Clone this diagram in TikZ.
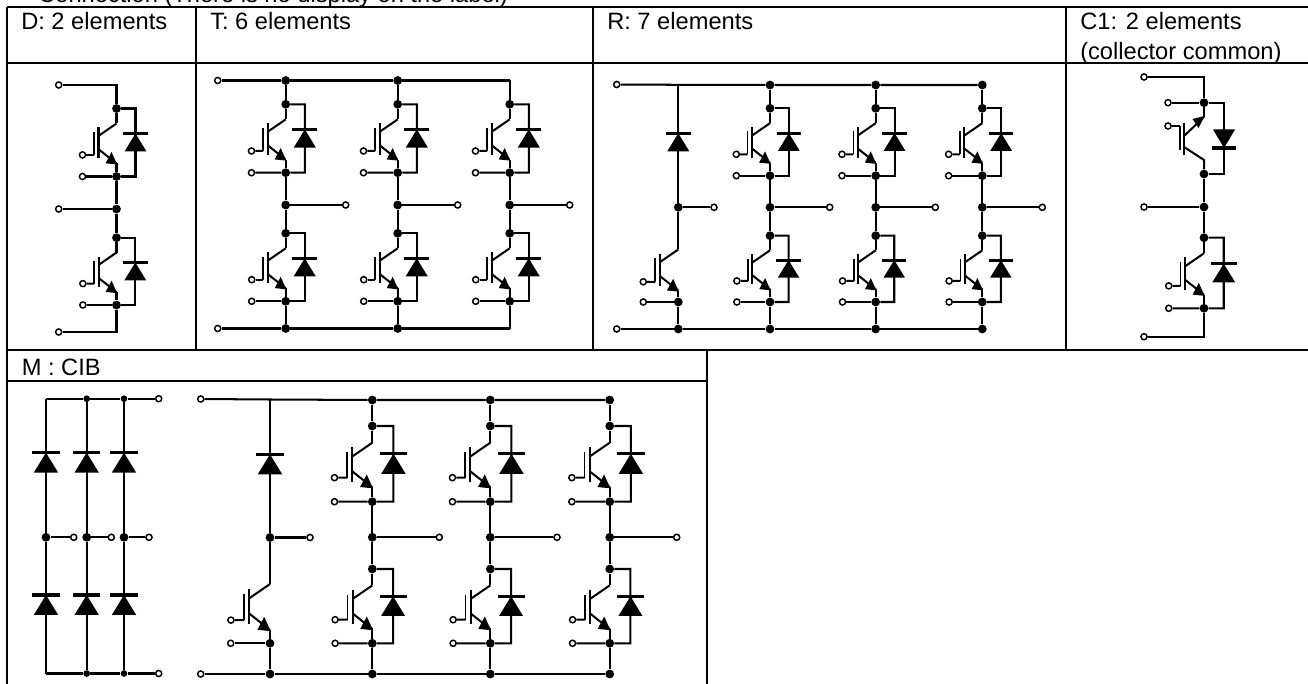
\documentclass[tikz,border=0pt]{standalone}
\usepackage{fontspec}
\setmainfont{Liberation Sans}
\tikzset{
  wire/.style={line width=1.52pt,line join=miter},
  rule/.style={line width=1.52pt},
  igbtbar/.style={line width=1.52pt},
  gatebar/.style={line width=1.15pt},
  diodebar/.style={line width=2.3pt},
  terminal/.style={circle,draw,fill=white,line width=1.1pt,inner sep=0pt,minimum size=4.6pt},
  jdot/.style={circle,fill=black,inner sep=0pt,minimum size=6.6pt},
  sdot/.style={circle,fill=black,inner sep=0pt,minimum size=5pt},
  label/.style={anchor=base west,inner sep=0pt,font=\fontsize{17.75pt}{22.4pt}\selectfont}
}
\newcommand\termnode[3]{\node[terminal] (#1) at (#2,#3) {};}
\newcommand\jnode[3]{\node[jdot] (#1) at (#2,#3) {};}
\newcommand\snode[3]{\node[sdot] (#1) at (#2,#3) {};}
\newcommand\diodeshape[3]{%
  \begin{scope}[shift={(#1,#2)},scale=#3]
    \fill (0,0) -- (-11,18) -- (11,18) -- cycle;
    \draw[diodebar] (-12.4,0) -- (12.4,0);
  \end{scope}}
\newcommand\igbtcore[4]{%
  \begin{scope}[shift={(#2,#3)},scale=#4]
    \coordinate (#1-ct) at (0,15);
    \coordinate (#1-e) at (0,55);
    \node[terminal] (#1-g) at (-34,46.4) {};
    \draw[wire] (#1-ct) -- (-18,27.4);
    \draw[wire] (-18,40.7) -- (#1-e);
    \fill (0.6,56) -- (-11,54.8) -- (-5,43.5) -- cycle;
    \draw[igbtbar] (-18,19) -- (-18,50);
    \draw[gatebar] (-22.5,23.4) -- (-22.5,46.4);
    \draw[wire] (#1-g) -- (-22.5,46.4);
  \end{scope}}
% name, x, y of upper dot, y of lower dot
\newcommand\igbtcell[4]{%
  \pgfmathsetmacro\cellscale{(#4-#3)/68}%
  \igbtcore{#1}{#2}{#3}{\cellscale}%
  \begin{scope}[shift={(#2,#3)},scale=\cellscale]
    \node[jdot] (#1-t) at (0,0) {};
    \node[jdot] (#1-b) at (0,68) {};
    \node[terminal] (#1-a) at (-34,68) {};
    \coordinate (#1-d1) at (19,0);
    \coordinate (#1-d2) at (19,68);
    \draw[wire] (#1-t) -- (#1-ct);
    \draw[wire] (#1-e) -- (#1-b);
    \draw[wire] (#1-a) -- (#1-b);
    \draw[wire] (#1-t) -- (#1-d1) -- (#1-d2) -- (#1-b);
    \diodeshape{19}{25}{1}
  \end{scope}}
\begin{document}
\begin{tikzpicture}[x=0.75pt,y=-0.75pt]
\useasboundingbox (0,0) rectangle (1308,684);
% table rules
\coordinate (gTL) at (7,7);
\coordinate (gTR) at (1308,7);
\coordinate (gHL) at (7,63.3);
\coordinate (gHR) at (1308,63.3);
\coordinate (gML) at (7,350);
\coordinate (gMR) at (1308,350);
\coordinate (gBL) at (7,684);
\coordinate (gNL) at (7,381);
\coordinate (gNR) at (706.7,381);
\coordinate (gOT) at (706.7,350);
\coordinate (gOB) at (706.7,684);
\draw[rule] (gTL) -- (gTR);
\draw[rule] (gHL) -- (gHR);
\draw[rule] (gML) -- (gMR);
\draw[rule] (gNL) -- (gNR);
\draw[rule] (gTL) -- (gBL);
\draw[rule] (gOT) -- (gOB);
\foreach \cx/\cn in {196/a,592.7/b,1066/c}{
  \coordinate (v\cn1) at (\cx,7);
  \coordinate (v\cn2) at (\cx,350);
  \draw[rule] (v\cn1) -- (v\cn2);
}
% texts
\node[label] (title) at (38,3) {Connection (There is no display on the label)};
\node[label] (hD) at (21,30) {D: 2 elements};
\node[label] (hT) at (210,30) {T: 6 elements};
\node[label] (hR) at (607,30) {R: 7 elements};
\node[label,align=left,anchor=north west] (hC) at (1080,12.5) {C1: 2 elements\\[0pt](collector common)};
\node[label] (hM) at (21.5,375) {M\ :\ CIB};

% ---------- D
\termnode{Dt}{58.7}{85}
\coordinate (Dc) at (116.5,85);
\igbtcell{D1}{116.5}{108.5}{176.5}
\jnode{Dm}{116.5}{209}
\termnode{Dmt}{58.7}{209}
\igbtcell{D2}{116.5}{237.7}{305}
\termnode{Db}{58.7}{332}
\coordinate (Dd) at (116.5,332);
\draw[wire] (Dt) -- (Dc) -- (D1-t);
\draw[wire] (D1-b) -- (Dm) -- (D2-t);
\draw[wire] (Dmt) -- (Dm);
\draw[wire] (D2-b) -- (Dd) -- (Db);

% ---------- T
\termnode{Tt}{217.7}{80.5}
\termnode{Tb}{217.7}{328.5}
\jnode{Tr1}{285.7}{80.5}
\jnode{Tr2}{397.7}{80.5}
\coordinate (Tr3) at (509.7,80.5);
\jnode{Ts1}{285.7}{328.5}
\jnode{Ts2}{397.7}{328.5}
\coordinate (Ts3) at (509.7,328.5);
\draw[wire] (Tt) -- (Tr1) -- (Tr2) -- (Tr3);
\draw[wire] (Tb) -- (Ts1) -- (Ts2) -- (Ts3);
\foreach \i/\X in {1/285.7,2/397.7,3/509.7}{
  \igbtcell{Tu\i}{\X}{104.3}{172.7}
  \igbtcell{Tl\i}{\X}{233.3}{301.3}
  \jnode{Tm\i}{\X}{205}
  \pgfmathsetmacro\tx{\X+60}
  \termnode{To\i}{\tx}{205}
  \draw[wire] (Tr\i) -- (Tu\i-t);
  \draw[wire] (Tu\i-b) -- (Tm\i) -- (Tl\i-t);
  \draw[wire] (Tl\i-b) -- (Ts\i);
  \draw[wire] (Tm\i) -- (To\i);
}

% ---------- R
\termnode{Rt}{616.7}{84.5}
\termnode{Rb}{616.7}{329}
\coordinate (Rr0) at (678.3,84.8);
\jnode{Rs0}{678.3}{329}
\jnode{Rr1}{770}{85}
\jnode{Rr2}{875.7}{85}
\jnode{Rr3}{982.3}{85}
\jnode{Rs1}{770}{329}
\jnode{Rs2}{875.7}{329}
\jnode{Rs3}{982.3}{329}
\draw[wire] (Rt) -- (Rr0) -- (Rr1) -- (Rr2) -- (Rr3);
\draw[wire] (Rb) -- (Rs0) -- (Rs1) -- (Rs2) -- (Rs3);
\jnode{Rm0}{678.3}{207.3}
\termnode{Ro0}{714}{207.3}
\draw[wire] (Rr0) -- (Rm0);
\draw[wire] (Rm0) -- (Ro0);
\diodeshape{678.3}{133.3}{1}
\igbtcore{Rq}{678.3}{234}{1.03}
\jnode{Rqb}{678.3}{302}
\termnode{Rqa}{643.3}{302}
\draw[wire] (Rm0) -- (Rq-ct);
\draw[wire] (Rq-e) -- (Rqb);
\draw[wire] (Rqb) -- (Rs0);
\draw[wire] (Rqa) -- (Rqb);
\foreach \i/\X/\O in {1/770/829.7,2/875.7/935.3,3/982.3/1042.3}{
  \igbtcell{Ru\i}{\X}{108.3}{175.7}
  \igbtcell{Rl\i}{\X}{235.7}{302}
  \jnode{Rm\i}{\X}{207.3}
  \termnode{Ro\i}{\O}{207.3}
  \draw[wire] (Rr\i) -- (Ru\i-t);
  \draw[wire] (Ru\i-b) -- (Rm\i) -- (Rl\i-t);
  \draw[wire] (Rl\i-b) -- (Rs\i);
  \draw[wire] (Rm\i) -- (Ro\i);
}

% ---------- C1
\termnode{Ct}{1144}{77}
\coordinate (Cc) at (1204,77);
\jnode{Cd1}{1204}{102.7}
\termnode{Ca1}{1168}{102.7}
\coordinate (Cq1) at (1204,117);
\coordinate (Cq2) at (1204,160);
\jnode{Cd2}{1204}{174}
\termnode{Cg1}{1168}{126}
\coordinate (Cb1) at (1224,102.7);
\coordinate (Cb2) at (1224,174);
\draw[wire] (Ct) -- (Cc) -- (Cd1) -- (Cq1);
\draw[wire] (Ca1) -- (Cd1);
\draw[wire] (Cd1) -- (Cb1) -- (Cb2) -- (Cd2);
\draw[wire] (Cq1) -- (1184,136);
\draw[wire] (1184,147) -- (Cq2) -- (Cd2);
\fill (1204.5,116) -- (1192.5,119) -- (1198.5,128) -- cycle;
\draw[igbtbar] (1184,123) -- (1184,155);
\draw[gatebar] (1180,126) -- (1180,150);
\draw[wire] (Cg1) -- (1180,126);
\fill (1224,148) -- (1213,129.5) -- (1235,129.5) -- cycle;
\draw[diodebar] (1211.6,148) -- (1236.4,148);
\jnode{Cm}{1204}{207}
\termnode{Cmt}{1144}{207}
\igbtcell{C2}{1204}{237.7}{308.3}
\termnode{Cb}{1144}{336.7}
\coordinate (Cd) at (1204,336.7);
\draw[wire] (Cd2) -- (Cm) -- (C2-t);
\draw[wire] (Cmt) -- (Cm);
\draw[wire] (C2-b) -- (Cd) -- (Cb);

% ---------- M, bridge
\coordinate (Mr1) at (46,398.7);
\snode{Mr2}{86.7}{398.7}
\snode{Mr3}{124}{398.7}
\termnode{Mrt}{158.7}{398.7}
\coordinate (Ms1) at (46,673.5);
\snode{Ms2}{86.7}{673.5}
\snode{Ms3}{124}{673.5}
\termnode{Mst}{158.7}{673.5}
\draw[wire] (Mr1) -- (Mr2) -- (Mr3) -- (Mrt);
\draw[wire] (Ms1) -- (Ms2) -- (Ms3) -- (Mst);
\foreach \i/\X/\O in {1/46/73.7,2/86.7/111.3,3/124/149}{
  \jnode{Mm\i}{\X}{537.3}
  \termnode{Mo\i}{\O}{537.3}
  \draw[wire] (Mr\i) -- (Mm\i) -- (Ms\i);
  \draw[wire] (Mm\i) -- (Mo\i);
  \diodeshape{\X}{452.7}{1.11}
  \diodeshape{\X}{595}{1.11}
}

% ---------- M, inverter
\termnode{Nt}{200.7}{399}
\termnode{Nb}{200.7}{674}
\coordinate (Nr0) at (270,399.5);
\jnode{Ns0}{270}{674}
\jnode{Nr1}{372.3}{400}
\jnode{Nr2}{490.3}{400}
\jnode{Nr3}{609.7}{400}
\jnode{Ns1}{372.3}{674}
\jnode{Ns2}{490.3}{674}
\jnode{Ns3}{609.7}{674}
\draw[wire] (Nt) -- (Nr0) -- (Nr1) -- (Nr2) -- (Nr3);
\draw[wire] (Nb) -- (Ns0) -- (Ns1) -- (Ns2) -- (Ns3);
\jnode{Nm0}{270}{537.5}
\termnode{No0}{310}{537.5}
\draw[wire] (Nr0) -- (Nm0);
\draw[wire] (Nm0) -- (No0);
\diodeshape{270}{454.3}{1.11}
\igbtcore{Nq}{270}{566.75}{1.15}
\jnode{Nqb}{270}{643.3}
\termnode{Nqa}{230.7}{643.3}
\draw[wire] (Nm0) -- (Nq-ct);
\draw[wire] (Nq-e) -- (Nqb);
\draw[wire] (Nqb) -- (Ns0);
\draw[wire] (Nqa) -- (Nqb);
\foreach \i/\X/\O in {1/372.3/439.3,2/490.3/557,3/609.7/676.7}{
  \igbtcell{Nu\i}{\X}{426}{501.7}
  \igbtcell{Nl\i}{\X}{569}{643.3}
  \jnode{Nm\i}{\X}{537.3}
  \termnode{No\i}{\O}{537.3}
  \draw[wire] (Nr\i) -- (Nu\i-t);
  \draw[wire] (Nu\i-b) -- (Nm\i) -- (Nl\i-t);
  \draw[wire] (Nl\i-b) -- (Ns\i);
  \draw[wire] (Nm\i) -- (No\i);
}
\end{tikzpicture}
\end{document}
